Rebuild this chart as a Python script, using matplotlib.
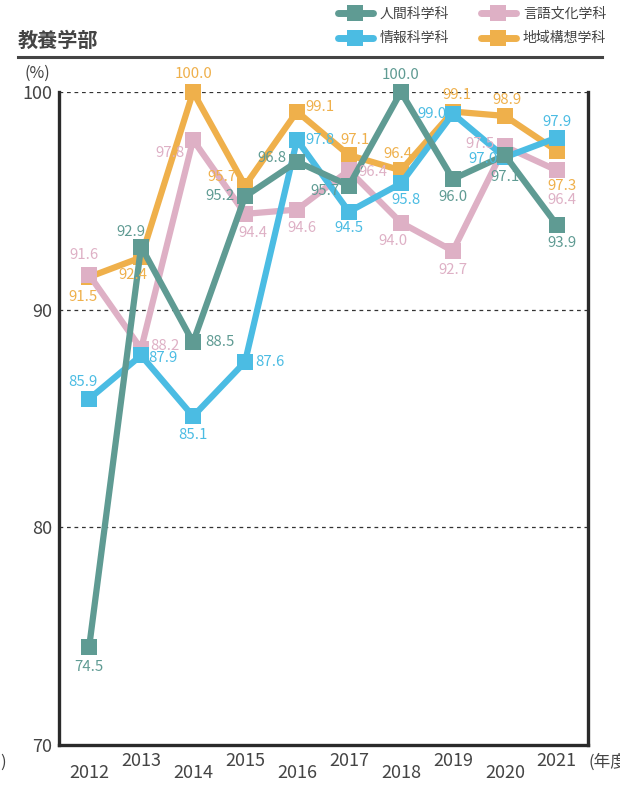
import matplotlib
matplotlib.use("Agg")
import matplotlib.pyplot as plt
from matplotlib.lines import Line2D

plt.rcParams['font.family'] = ['Noto Sans CJK JP', 'DejaVu Sans']

years = [2012, 2013, 2014, 2015, 2016, 2017, 2018, 2019, 2020, 2021]
ningen = [74.5, 92.9, 88.5, 95.2, 96.8, 95.7, 100.0, 96.0, 97.1, 93.9]
joho = [85.9, 87.9, 85.1, 87.6, 97.8, 94.5, 95.8, 99.0, 97.0, 97.9]
gengo = [91.6, 88.2, 97.8, 94.4, 94.6, 96.4, 94.0, 92.7, 97.5, 96.4]
chiiki = [91.5, 92.4, 100.0, 95.7, 99.1, 97.1, 96.4, 99.1, 98.9, 97.3]

names = ['人間科学科', '情報科学科', '言語文化学科', '地域構想学科']
colors = {'人間科学科': '#5f9b93', '情報科学科': '#4bbce3',
          '言語文化学科': '#deb0c5', '地域構想学科': '#efb04b'}

# label offsets in pixels (dx, dy; dy positive = up)
offsets = {
    '人間科学科': [(0, -20), (-10, 15), (27, 0), (-25, 0), (-25, 4), (-24, -5),
              (0, 17), (0, -18), (0, -22), (5, -18)],
    '情報科学科': [(-6, 17), (22, -3), (0, -19), (25, 0), (23, 0), (0, -16),
              (5, -17), (-21, 0), (-22, -2), (0, 16)],
    '言語文化学科': [(-5, 20), (24, 3), (-23, -13), (8, -19), (5, -18), (24, -2),
               (-8, -18), (0, -19), (-25, 2), (5, -30)],
    '地域構想学科': [(-6, -20), (-8, -18), (0, 18), (-23, 9), (23, 5), (6, 15),
               (-3, 16), (4, 17), (2, 16), (5, -35)],
}
series = {'人間科学科': ningen, '情報科学科': joho, '言語文化学科': gengo, '地域構想学科': chiiki}
draw_order = ['地域構想学科', '言語文化学科', '情報科学科', '人間科学科']

W, H = 620, 788
fig = plt.figure(figsize=(W / 100, H / 100), dpi=100)
ax = fig.add_axes([59 / W, 1 - 745 / H, (588 - 59) / W, (745 - 92) / H])

for z, name in enumerate(draw_order):
    vals = series[name]
    c = colors[name]
    ax.plot(years, vals, color=c, lw=4.5, marker='s', ms=12, mec=c, mew=0,
            clip_on=False, zorder=3 + z)
    for x, v, (dx, dy) in zip(years, vals, offsets[name]):
        ax.annotate(f'{v:.1f}', (x, v), xytext=(dx * 0.72, dy * 0.72),
                    textcoords='offset points', ha='center', va='center',
                    fontsize=10.8, color=c, zorder=10)

ax.set_xlim(2011.42, 2021.6)
ax.set_ylim(70, 100)
ax.set_yticks([70, 80, 90, 100])
for y in [80, 90, 100]:
    ax.axhline(y, color='#333333', lw=0.9, ls=(0, (3, 3)), zorder=1)

for side in ['left', 'right', 'bottom']:
    ax.spines[side].set_linewidth(2.4)
    ax.spines[side].set_color('#2a2a2a')
ax.spines['top'].set_visible(False)

ax.set_xticks(years)
ax.set_xticklabels([str(y) for y in years])
ax.tick_params(length=0, labelsize=13, colors='#444444')
ax.tick_params(axis='y', pad=5)
for i, t in enumerate(ax.xaxis.get_major_ticks()):
    t.set_pad(14 if i % 2 == 0 else 5)

fig.text(589 / W, 1 - 762 / H, '(年度', fontsize=12, color='#444444', va='center', ha='left')
fig.text(0.5 / W, 1 - 762 / H, ')', fontsize=12, color='#444444', va='center', ha='left')
fig.text(37 / W, 1 - 73 / H, '(%)', fontsize=11.5, color='#444444', va='center', ha='center')

# header
fig.text(18 / W, 1 - 40 / H, '教養学部', fontsize=14.5, fontweight='bold', color='#444444',
         va='center', ha='left')
fig.add_artist(Line2D([18 / W, 602 / W], [1 - 57 / H] * 2, color='#444444', lw=2.2))

handles = [Line2D([], [], color=colors[n], lw=5, marker='s', ms=12, mew=0,
                  solid_capstyle='round') for n in names]
fig.legend(handles, names, ncol=2, loc='upper right', bbox_to_anchor=(606 / W, 1 - 7 / H),
           frameon=False, fontsize=10, handlelength=2.5, columnspacing=2.3,
           labelspacing=0.75, handletextpad=0.5, labelcolor='#444444',
           borderpad=0, borderaxespad=0)

fig.savefig('out.png', dpi=100)
